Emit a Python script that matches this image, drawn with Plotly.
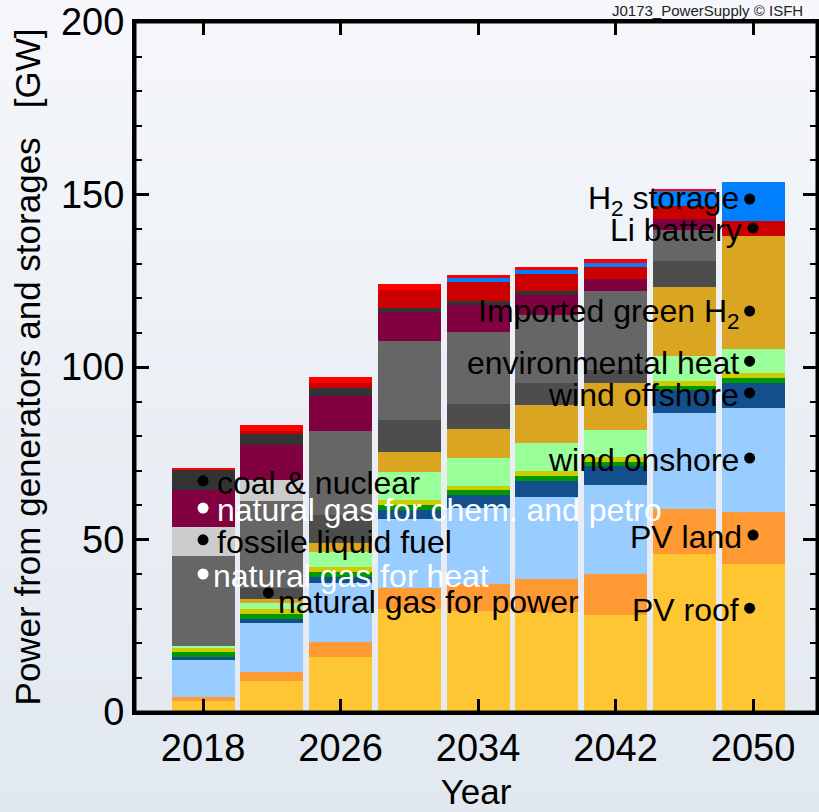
import plotly.graph_objects as go

years = [2018, 2022, 2026, 2030, 2034, 2038, 2042, 2046, 2050]

pv_roof        = [3.3, 9.1, 16.0, 29.8, 29.3, 28.9, 28.2, 45.7, 42.9]
pv_land        = [1.0, 2.6, 4.4, 6.1, 7.8, 9.7, 11.7, 13.1, 15.1]
wind_onshore   = [10.8, 14.0, 16.9, 20.0, 22.0, 23.8, 25.9, 28.0, 30.2]
wind_offshore  = [0.8, 1.3, 1.9, 2.7, 3.8, 4.6, 5.5, 6.5, 7.1]
hydro_green    = [1.4, 1.4, 1.5, 1.4, 1.4, 1.4, 1.2, 1.3, 1.4]
bio_yellow     = [1.4, 1.5, 1.4, 1.4, 1.3, 1.5, 1.3, 1.4, 1.5]
env_heat       = [0.4, 1.6, 4.4, 8.1, 8.1, 8.0, 8.0, 7.2, 6.9]
imported_h2    = [0.0, 1.2, 2.4, 5.9, 8.2, 11.1, 13.6, 20.0, 33.0]
ng_power       = [0.0, 3.2, 8.2, 9.2, 7.4, 6.3, 3.7, 7.5, 0.0]
ng_heat        = [26.2, 25.3, 24.4, 23.0, 20.9, 19.8, 22.9, 9.0, 0.0]
fossil_liquid  = [8.2, 6.0, 0.0, 0.0, 0.0, 0.0, 0.0, 0.0, 0.0]
ng_chem        = [10.8, 10.2, 10.2, 8.4, 7.8, 5.8, 3.4, 3.2, 0.0]
coal_nuclear   = [6.0, 3.2, 2.1, 1.2, 1.1, 1.1, 0.0, 0.0, 0.0]
li_battery     = [0.0, 0.9, 1.6, 5.1, 5.6, 4.9, 3.5, 3.8, 4.2]
h2_storage     = [0.0, 0.0, 0.0, 0.0, 1.0, 1.2, 1.3, 4.5, 11.2]
other_storage  = [0.3, 1.7, 1.8, 1.8, 1.0, 1.0, 1.2, 0.5, 0.0]

series = [
    ("PV roof", pv_roof, "#ffc633"),
    ("PV land", pv_land, "#ff9933"),
    ("wind onshore", wind_onshore, "#99ccff"),
    ("wind offshore", wind_offshore, "#134f8c"),
    ("hydro", hydro_green, "#009900"),
    ("biomass", bio_yellow, "#cccc00"),
    ("environmental heat", env_heat, "#99ff99"),
    ("Imported green H2", imported_h2, "#daa520"),
    ("natural gas for power", ng_power, "#4d4d4d"),
    ("natural gas for heat", ng_heat, "#666666"),
    ("fossile liquid fuel", fossil_liquid, "#cccccc"),
    ("natural gas for chem. and petro", ng_chem, "#800040"),
    ("coal & nuclear", coal_nuclear, "#333333"),
    ("Li battery", li_battery, "#cc0000"),
    ("H2 storage", h2_storage, "#0080ff"),
    ("other storage", other_storage, "#ff0000"),
]

# label texts, anchor (year, GW), side, colour
label_text = ["coal & nuclear", "natural gas for chem. and petro", "fossile liquid fuel",
              "natural gas for heat", "natural gas for power",
              "H<sub>2</sub> storage", "Li battery", "Imported green H<sub>2</sub>",
              "environmental heat", "wind offshore", "wind onshore", "PV land", "PV roof"]
label_x = [2018, 2018, 2018, 2018, 2021.8, 2049.8, 2050.0, 2049.8, 2049.8, 2049.8, 2049.8, 2050.0, 2049.8]
label_y = [67.0, 59.1, 49.9, 40.0, 34.5, 148.7, 140.3, 116.2, 101.7, 92.5, 73.6, 51.3, 30.1]
label_side = ["l", "l", "l", "l", "l", "r", "r", "r", "r", "r", "r", "r", "r"]
label_col = ["black", "white", "black", "white", "black",
             "black", "black", "black", "black", "black", "black", "black", "black"]

FONT = "Arial, Liberation Sans, sans-serif"

fig = go.Figure()
for name, vals, col in series:
    fig.add_trace(go.Bar(x=years, y=vals, name=name, marker=dict(color=col, line=dict(width=0)),
                         width=3.67, showlegend=False))

fig.add_trace(go.Scatter(x=label_x, y=label_y, mode="markers",
                         marker=dict(size=11, color=label_col), showlegend=False, hoverinfo="skip"))

annotations = []
for t, x, y, s, c in zip(label_text, label_x, label_y, label_side, label_col):
    if s == "l":
        xs = 8 if t in ("natural gas for heat", "natural gas for power") else 12
        ys = -9 if t == "natural gas for power" else -2
        annotations.append(dict(x=x, y=y, text=t, showarrow=False, xanchor="left", yanchor="middle",
                                xshift=xs, yshift=ys, font=dict(family=FONT, size=32, color=c)))
    else:
        annotations.append(dict(x=x, y=y, text=t, showarrow=False, xanchor="right", yanchor="middle",
                                xshift=-9, yshift=-2, font=dict(family=FONT, size=32, color=c)))

annotations.append(dict(xref="paper", yref="paper", x=0.982, y=1.016, text="J0173_PowerSupply © ISFH",
                        showarrow=False, xanchor="right", yanchor="middle",
                        font=dict(family="Liberation Sans Narrow, Arial Narrow, Arial", size=15, color="#222")))

# background gradient strips
shapes = []
n = 30
top = (245, 247, 250)
bot = (226, 232, 240)
y_top, y_bot = 1.04, -0.15
for i in range(n):
    f = i / (n - 1)
    c = tuple(int(round(top[k] + (bot[k] - top[k]) * f)) for k in range(3))
    y1 = y_top - (y_top - y_bot) * i / n
    y0 = y_top - (y_top - y_bot) * (i + 1) / n
    shapes.append(dict(type="rect", xref="paper", yref="paper", x0=-0.25, x1=1.05, y0=y0 - 0.002, y1=y1,
                       fillcolor="rgb(%d,%d,%d)" % c, line=dict(width=0), layer="below"))
# plot frame
shapes.append(dict(type="rect", xref="paper", yref="paper", x0=0, x1=1, y0=0, y1=1,
                   line=dict(color="black", width=3), fillcolor="rgba(0,0,0,0)", layer="above"))

fig.update_layout(
    width=819, height=812,
    margin=dict(l=135, r=2, t=22, b=100, autoexpand=False),
    paper_bgcolor="rgb(245,247,250)",
    plot_bgcolor="rgba(0,0,0,0)",
    barmode="stack",
    font=dict(family=FONT, color="black"),
    shapes=shapes,
    annotations=annotations,
    xaxis=dict(range=[2014.04, 2053.72], tickmode="linear", tick0=2018, dtick=8,
               ticks="inside", ticklen=13, tickwidth=2.5, tickcolor="black", automargin=False,
               showline=True, linewidth=3, linecolor="black", mirror="allticks",
               ticklabeloverflow="allow",
               showgrid=False, zeroline=False, tickfont=dict(size=38),
               title=dict(text="Year", font=dict(size=35), standoff=12)),
    yaxis=dict(range=[0, 200], tickmode="linear", tick0=0, dtick=50,
               ticks="inside", ticklen=14, tickwidth=2.5, tickcolor="black", automargin=False,
               minor=dict(ticks="inside", dtick=10, ticklen=7, tickwidth=2, tickcolor="black"),
               showline=True, linewidth=3, linecolor="black", mirror="allticks",
               ticklabeloverflow="allow",
               showgrid=False, zeroline=False, tickfont=dict(size=38),
               title=dict(text="Power from generators and storages\u00a0\u00a0\u00a0[GW]",
                          font=dict(size=35), standoff=10)),
)

fig.write_html(
    "out.html",
    config={"displayModeBar": False},
    post_script="document.body.style.margin='0';document.body.style.background='#f5f7fa';"
                "document.documentElement.style.overflow='hidden';",
)
